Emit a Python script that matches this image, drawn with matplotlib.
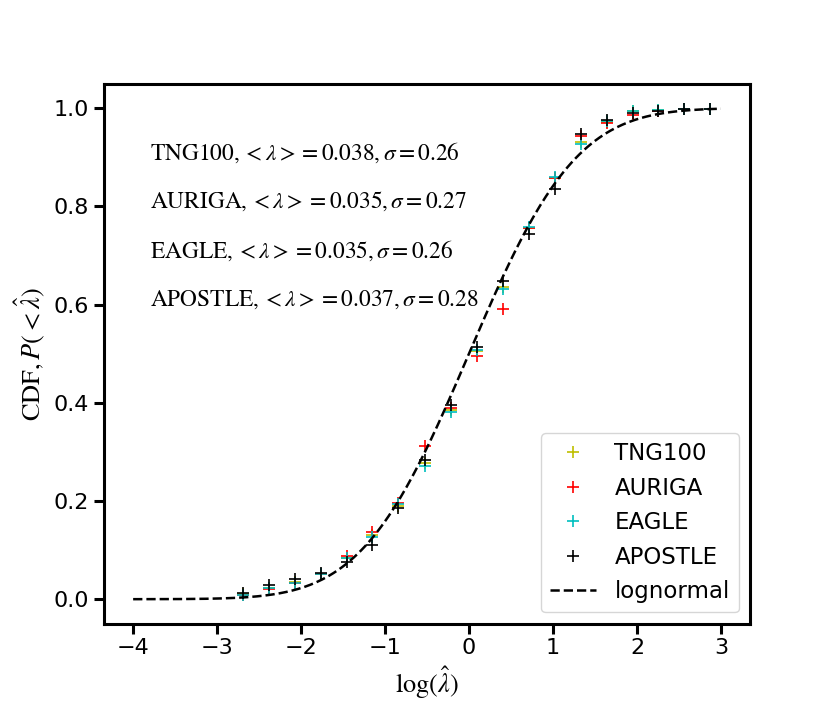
import math
import numpy as np
import matplotlib
matplotlib.use('Agg')
import matplotlib.pyplot as plt

plt.rcParams['mathtext.fontset'] = 'stix'
plt.rcParams['font.family'] = 'DejaVu Sans'

# bin centres in log(lambda_hat)
log_lam = [-2.69, -2.38, -2.07, -1.76, -1.45, -1.15, -0.84, -0.53, -0.22, 0.09,
           0.40, 0.71, 1.02, 1.33, 1.64, 1.95, 2.25, 2.56, 2.87]

cdf_tng = [0.010, 0.022, 0.035, 0.052, 0.083, 0.130, 0.190, 0.277, 0.385, 0.505,
           0.635, 0.755, 0.857, 0.930, 0.972, 0.993, 0.997, 0.998, 0.999]
cdf_auriga = [0.008, 0.020, 0.033, 0.052, 0.088, 0.137, 0.196, 0.311, 0.390, 0.495,
              0.590, 0.755, 0.858, 0.943, 0.969, 0.986, 0.995, 0.998, 0.999]
cdf_eagle = [0.009, 0.022, 0.033, 0.052, 0.083, 0.127, 0.194, 0.272, 0.382, 0.507,
             0.632, 0.757, 0.859, 0.927, 0.973, 0.994, 0.997, 0.998, 0.999]
cdf_apostle = [0.013, 0.029, 0.041, 0.054, 0.076, 0.110, 0.186, 0.284, 0.396, 0.514,
               0.648, 0.743, 0.835, 0.947, 0.976, 0.990, 0.995, 0.998, 0.999]

names = ['TNG100', 'AURIGA', 'EAGLE', 'APOSTLE']
colors = ['y', 'r', 'c', 'k']
mean_lam = ['0.038', '0.035', '0.035', '0.037']
sigmas = ['0.26', '0.27', '0.26', '0.28']

# lognormal model (normal CDF in log space)
mu_fit, sig_fit = 0.0, 1.0
x_fit = np.linspace(-4, 3, 300)
y_fit = np.array([0.5 * (1 + math.erf((v - mu_fit) / (sig_fit * math.sqrt(2)))) for v in x_fit])

fig = plt.figure(figsize=(8.3, 7.12), dpi=100)
ax = fig.add_axes([0.125, 0.124, 0.779, 0.758])

for name, col, cdf in zip(names, colors, [cdf_tng, cdf_auriga, cdf_eagle, cdf_apostle]):
    ax.plot(log_lam, cdf, '+', color=col, ms=8, mew=1.2, label=name)
ax.plot(x_fit, y_fit, 'k--', lw=1.8, label='lognormal')

for i, (name, m, s) in enumerate(zip(names, mean_lam, sigmas)):
    ax.text(-3.8, 0.91 - 0.1 * i,
            r'$\mathrm{%s}, <\lambda> = %s, \sigma = %s$' % (name, m, s),
            fontsize=16.8, va='center')

ax.set_xticks(range(-4, 4))
ax.set_yticks([0, 0.2, 0.4, 0.6, 0.8, 1.0])
ax.set_xlabel(r'$\log(\hat{\lambda})$', fontsize=19)
ax.set_ylabel(r'$\mathrm{CDF}, P(<\hat{\lambda})$', fontsize=19)
ax.tick_params(labelsize=16, width=2.2, length=7)
for sp in ax.spines.values():
    sp.set_linewidth(2.2)

ax.legend(loc='lower right', fontsize=16.5)

fig.savefig('out.png', dpi=100)
